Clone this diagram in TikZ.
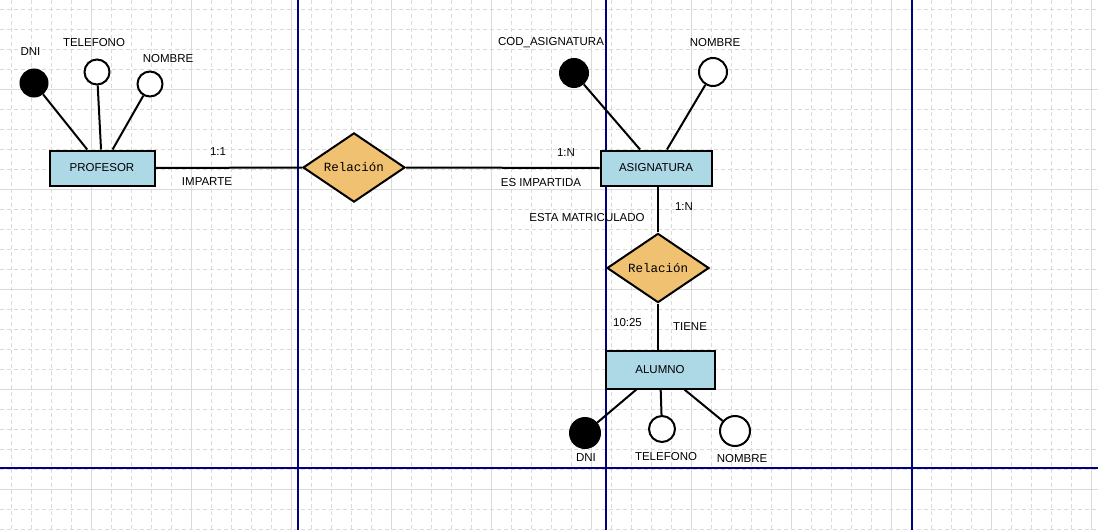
\documentclass[tikz,border=0pt]{standalone}
\usepackage{fontspec}
\setmainfont{Liberation Sans}
\newfontfamily\relfont{Liberation Mono}
\usetikzlibrary{shapes.geometric}
\definecolor{entazul}{RGB}{173,216,230}
\definecolor{relnaranja}{RGB}{239,193,112}
\definecolor{rejilla}{RGB}{218,218,218}
\definecolor{marco}{RGB}{0,0,128}

\begin{document}
\begin{tikzpicture}[x=1pt, y=-1pt,
  entidad/.style={draw, line width=2pt, fill=entazul, inner sep=0pt, font=\fontsize{11.5}{13}\selectfont},
  relacion/.style={diamond, draw, line width=2pt, fill=relnaranja, inner sep=0pt, font=\relfont\fontsize{12.5}{14}\selectfont},
  atrib/.style={circle, draw, line width=2pt, fill=white, inner sep=0pt},
  clave/.style={atrib, fill=black},
  etiq/.style={inner sep=0pt, font=\fontsize{11.5}{13}\selectfont},
  enlace/.style={line width=2pt}]
\useasboundingbox (0,0) rectangle (1098,530);

% Grid
\foreach \x in {11,31,...,1091}
  \draw[rejilla, line width=0.6pt, dash pattern=on 4pt off 3pt] (\x,0) -- (\x,530);
\foreach \y in {9,29,...,529}
  \draw[rejilla, line width=0.6pt, dash pattern=on 4pt off 3pt] (0,\y) -- (1098,\y);
\foreach \x in {91,191,...,1091}
  \draw[rejilla, line width=0.8pt] (\x,0) -- (\x,530);
\foreach \y in {89,189,...,489}
  \draw[rejilla, line width=0.8pt] (0,\y) -- (1098,\y);

% Page limits
\foreach \x in {298,606,912}
  \draw[marco, line width=1.3pt] (\x,0) -- (\x,530);
\draw[marco, line width=1.3pt] (0,468) -- (1098,468);

% Entities
\node[entidad, minimum width=105pt, minimum height=35pt] (prof) at (102,168) {PROFESOR};
\node[entidad, minimum width=111pt, minimum height=35pt] (asig) at (656,168) {ASIGNATURA};
\node[entidad, minimum width=109pt, minimum height=38pt] (alum) at (660,369.5) {ALUMNO};

% Relations
\node[relacion, minimum width=102pt, minimum height=63pt] (rel1) at (354,167.5) {Relación};
\node[relacion, minimum width=102pt, minimum height=60pt] (rel2) at (658,268) {Relación};

% Attributes of PROFESOR
\node[clave, minimum size=27pt] (pdni) at (34,83) {};
\node[atrib, minimum size=25pt] (ptel) at (97,72) {};
\node[atrib, minimum size=25pt] (pnom) at (150,84) {};
\node[etiq] (lpdni) at (30.5,52) {DNI};
\node[etiq] (lptel) at (94,43) {TELEFONO};
\node[etiq] (lpnom) at (168,59) {NOMBRE};

% Attributes of ASIGNATURA
\node[clave, minimum size=28pt] (acod) at (574,73) {};
\node[atrib, minimum size=28pt] (anom) at (713,72) {};
\node[etiq] (lacod) at (551,43) {COD\_ASIGNATURA};
\node[etiq] (lanom) at (715,43) {NOMBRE};

% Attributes of ALUMNO
\node[clave, minimum size=30pt] (udni) at (585,433) {};
\node[atrib, minimum size=26pt] (utel) at (662,429) {};
\node[atrib, minimum size=30pt] (unom) at (735,431) {};
\node[etiq] (ludni) at (586,458) {DNI};
\node[etiq] (lutel) at (666,457) {TELEFONO};
\node[etiq] (lunom) at (742,459) {NOMBRE};

% Connectors
\draw[enlace] (pdni) -- (prof);
\draw[enlace] (ptel) -- (prof);
\draw[enlace] (pnom) -- (prof);
\draw[enlace] (acod) -- (asig);
\draw[enlace] (anom) -- (asig);
\draw[enlace] (udni) -- (alum);
\draw[enlace] (utel) -- (alum);
\draw[enlace] (unom) -- (alum);
\draw[enlace] (prof.east) -- (rel1.west);
\draw[enlace] (rel1.east) -- (asig.west);
\draw[enlace] (asig.south -| rel2.north) -- (rel2.north);
\draw[enlace] (rel2.south) -- (alum.north -| rel2.south);

% Cardinalities and roles
\node[etiq] (c11) at (218,152) {1:1};
\node[etiq] (rimp) at (207,182) {IMPARTE};
\node[etiq] (c1n) at (566,153) {1:N};
\node[etiq] (resimp) at (541,183) {ES IMPARTIDA};
\node[etiq] (c1nb) at (684,207) {1:N};
\node[etiq] (rmat) at (587,218) {ESTA MATRICULADO};
\node[etiq] (c1025) at (627.5,323) {10:25};
\node[etiq] (rtie) at (690,327) {TIENE};
\end{tikzpicture}
\end{document}
